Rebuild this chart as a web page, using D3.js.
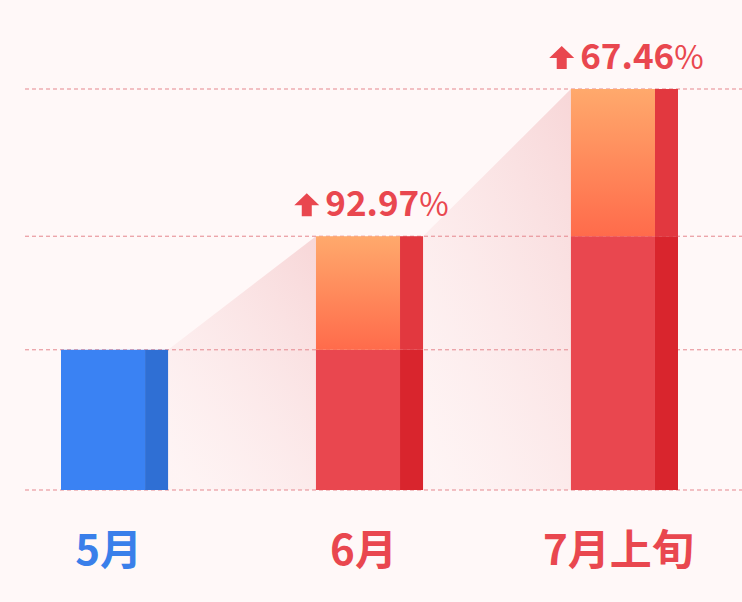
<!DOCTYPE html>
<html>
<head>
<meta charset="utf-8">
<script src="https://cdn.jsdelivr.net/npm/d3@7"></script>
<style>
  html, body { margin: 0; padding: 0; background: #fff8f8; }
  svg { display: block; }
</style>
</head>
<body>
<div id="chart"></div>
<script>
var w = 742, h = 602;

// data (relative index, 5月 = 100)
var categories = ["5月", "6月", "7月上旬"];
var values = [100, 181, 286];
var growth = [null, "92.97", "67.46"];
var gridValues = [0, 100, 181, 286];

var font = "'Noto Sans CJK SC', 'Noto Sans', sans-serif";

var x = d3.scaleBand()
  .domain(categories)
  .range([61, 678])
  .paddingInner(0.58)
  .paddingOuter(0);

var y = d3.scaleLinear()
  .domain([0, 286])
  .range([490, 89]);

var stripW = x.bandwidth() * 0.215;

var svg = d3.select("#chart").append("svg")
  .attr("width", w)
  .attr("height", h);

svg.append("rect")
  .attr("width", w).attr("height", h)
  .attr("fill", "#fff8f8");

var defs = svg.append("defs");

var grad = defs.append("linearGradient")
  .attr("id", "rise")
  .attr("x1", 0).attr("y1", 0).attr("x2", 0).attr("y2", 1);
grad.append("stop").attr("offset", "0%").attr("stop-color", "#ffa96c");
grad.append("stop").attr("offset", "100%").attr("stop-color", "#ff6b4b");

var shadow = defs.append("linearGradient")
  .attr("id", "shadow")
  .attr("x1", 1).attr("y1", 0).attr("x2", 0.15).attr("y2", 1);
shadow.append("stop").attr("offset", "0%").attr("stop-color", "#f3c2c4").attr("stop-opacity", 0.62);
shadow.append("stop").attr("offset", "100%").attr("stop-color", "#f8d6d8").attr("stop-opacity", 0.12);

// shadows between bars
var pairs = d3.pairs(d3.range(categories.length));
svg.selectAll(".shadow")
  .data(pairs)
  .enter().append("path")
  .attr("class", "shadow")
  .attr("fill", "url(#shadow)")
  .attr("d", function(p) {
    var x0 = x(categories[p[0]]) + x.bandwidth();
    var x1 = x(categories[p[1]]);
    return "M" + x0 + "," + y(values[p[0]]) +
      "L" + x1 + "," + y(values[p[1]]) +
      "L" + x1 + "," + y(0) +
      "L" + x0 + "," + y(0) + "Z";
  });

// dashed grid
svg.selectAll(".grid")
  .data(gridValues)
  .enter().append("line")
  .attr("class", "grid")
  .attr("x1", 25).attr("x2", w)
  .attr("y1", function(d) { return y(d); })
  .attr("y2", function(d) { return y(d); })
  .attr("stroke", "#e5878e")
  .attr("stroke-width", 1)
  .attr("stroke-dasharray", "4,3");

// bars
var bars = svg.selectAll(".bar")
  .data(categories)
  .enter().append("g")
  .attr("class", "bar");

bars.each(function(c, i) {
  var g = d3.select(this);
  var bx = x(c), bw = x.bandwidth();
  var mainW = bw - stripW;
  if (i === 0) {
    g.append("rect").attr("x", bx).attr("y", y(values[i]))
      .attr("width", mainW).attr("height", y(0) - y(values[i])).attr("fill", "#3a82f3");
    g.append("rect").attr("x", bx + mainW).attr("y", y(values[i]))
      .attr("width", stripW).attr("height", y(0) - y(values[i])).attr("fill", "#2f6fd4");
    return;
  }
  var prev = values[i - 1];
  // base part (previous level)
  g.append("rect").attr("x", bx).attr("y", y(prev))
    .attr("width", mainW).attr("height", y(0) - y(prev)).attr("fill", "#e9474f");
  g.append("rect").attr("x", bx + mainW).attr("y", y(prev))
    .attr("width", stripW).attr("height", y(0) - y(prev)).attr("fill", "#d9252d");
  // increase part
  g.append("rect").attr("x", bx).attr("y", y(values[i]))
    .attr("width", mainW).attr("height", y(prev) - y(values[i])).attr("fill", "url(#rise)");
  g.append("rect").attr("x", bx + mainW).attr("y", y(values[i]))
    .attr("width", stripW).attr("height", y(prev) - y(values[i])).attr("fill", "#e2383f");
});

// growth labels
categories.forEach(function(c, i) {
  if (!growth[i]) return;
  var g = svg.append("g").attr("class", "growth");
  g.append("path")
    .attr("d", "M12.5,0L25,12L17.5,12L17.5,23L7.5,23L7.5,12L0,12Z")
    .attr("transform", "translate(0,-23)")
    .attr("fill", "#e9474f");
  var t = g.append("text")
    .attr("x", 31)
    .attr("y", 0)
    .attr("fill", "#e9474f")
    .style("font-family", font);
  t.append("tspan").text(growth[i])
    .style("font-size", "35px").style("font-weight", "bold");
  t.append("tspan").text("%")
    .style("font-size", "32px").style("font-weight", "normal");
  var bb = g.node().getBBox();
  var cx = x(c) + x.bandwidth() / 2 + 2;
  g.attr("transform", "translate(" + (cx - bb.width / 2) + "," + (y(values[i]) - 20) + ")");
});

// category labels
svg.selectAll(".cat")
  .data(categories)
  .enter().append("text")
  .attr("class", "cat")
  .attr("x", function(d) { return x(d) + x.bandwidth() / 2 - 6; })
  .attr("y", 565)
  .attr("text-anchor", "middle")
  .attr("fill", function(d, i) { return i === 0 ? "#3a7fea" : "#e9474f"; })
  .style("font-family", font)
  .style("font-size", "42px")
  .style("font-weight", "bold")
  .text(function(d) { return d; });
</script>
</body>
</html>
